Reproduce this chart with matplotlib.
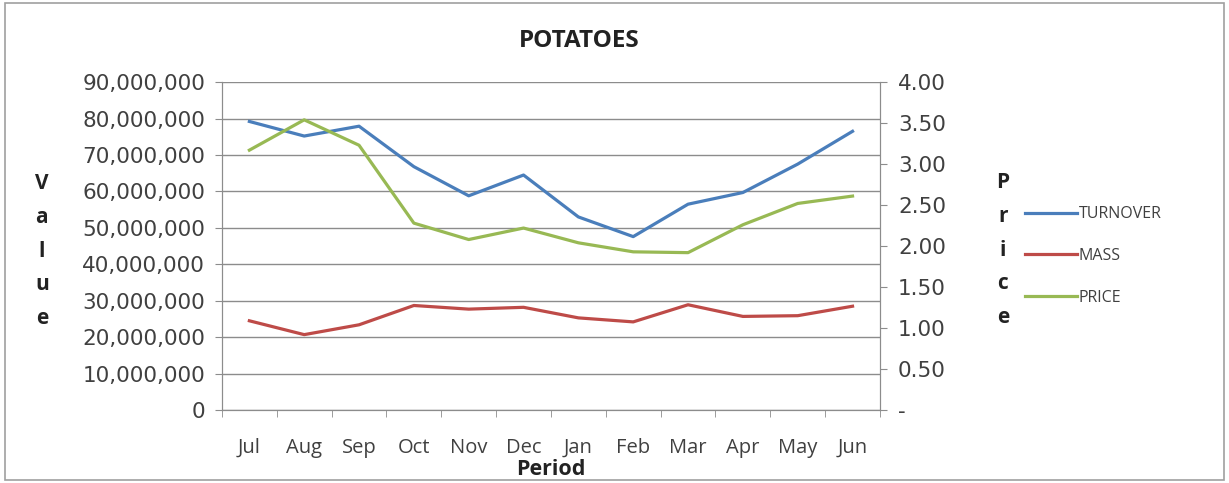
import matplotlib
matplotlib.use("Agg")
import matplotlib.pyplot as plt
from matplotlib.ticker import FuncFormatter, FixedLocator
from matplotlib.lines import Line2D
from matplotlib.patches import Rectangle

plt.rcParams['font.family'] = ['Open Sans', 'DejaVu Sans']

months = ["Jul", "Aug", "Sep", "Oct", "Nov", "Dec", "Jan", "Feb", "Mar", "Apr", "May", "Jun"]
turnover = [79.2e6, 75.2e6, 77.9e6, 66.8e6, 58.8e6, 64.5e6, 53.0e6, 47.6e6, 56.5e6, 59.7e6, 67.5e6, 76.5e6]
mass = [24.5e6, 20.7e6, 23.4e6, 28.7e6, 27.7e6, 28.2e6, 25.3e6, 24.2e6, 28.9e6, 25.7e6, 25.9e6, 28.5e6]
price = [3.17, 3.54, 3.23, 2.28, 2.08, 2.22, 2.04, 1.93, 1.92, 2.26, 2.52, 2.61]

blue = "#4a7ebb"
red = "#be4b48"
green = "#98b954"
grey = "#8c8c8c"
text_col = "#404040"

fig = plt.figure(figsize=(12.29, 4.83), dpi=100)
fig.patches.append(Rectangle((0.004, 0.006), 0.992, 0.988, transform=fig.transFigure,
                             fill=False, edgecolor="#a0a0a0", linewidth=1.2))

ax = fig.add_axes([0.1806, 0.151, 0.5354, 0.679])
ax2 = ax.twinx()

x = list(range(len(months)))
ax.plot(x, turnover, color=blue, linewidth=2.3, label="TURNOVER", zorder=3)
ax.plot(x, mass, color=red, linewidth=2.3, label="MASS", zorder=3)
ax2.plot(x, price, color=green, linewidth=2.3, label="PRICE", zorder=3)

ax.set_xlim(-0.5, 11.5)
ax.set_ylim(0, 90e6)
ax2.set_ylim(0, 4)
ax.set_yticks([i * 10e6 for i in range(10)])
ax2.set_yticks([i * 0.5 for i in range(9)])
ax.yaxis.set_major_formatter(FuncFormatter(lambda v, p: f"{int(v):,}"))
ax2.yaxis.set_major_formatter(FuncFormatter(lambda v, p: "-" if v == 0 else f"{v:.2f}"))

ax.set_xticks(x)
ax.set_xticklabels(months)
ax.xaxis.set_minor_locator(FixedLocator([i - 0.5 for i in range(13)]))
ax.tick_params(axis="x", which="major", length=0, pad=20, labelsize=14.5, labelcolor=text_col)
ax.tick_params(axis="x", which="minor", length=5, color=grey, direction="out")
ax.tick_params(axis="y", length=5, color=grey, pad=7, labelsize=15.5, labelcolor=text_col)
ax2.tick_params(axis="y", length=5, color=grey, pad=8, labelsize=15.5, labelcolor=text_col)
for lbl in ax.get_yticklabels() + ax2.get_yticklabels():
    lbl.set_family("DejaVu Sans")

ax.grid(axis="y", color=grey, linewidth=1.0, zorder=0)
for a in (ax, ax2):
    a.spines["top"].set_visible(False)
    for s in ("left", "right", "bottom"):
        a.spines[s].set_color(grey)
ax.set_facecolor("none")

ax.set_xlabel("Period", fontsize=15.5, fontweight="bold", color="#222222")
ax.xaxis.set_label_coords(0.5, -0.148)
fig.text(0.4717, 0.915, "POTATOES", ha="center", va="center", fontsize=17.5, fontweight="bold", color="#222222")

fig.text(0.034, 0.48, "V\na\nl\nu\ne", ha="center", va="center", fontsize=15, fontweight="bold",
         color="#222222", linespacing=1.8)
fig.text(0.816, 0.482, "P\nr\ni\nc\ne", ha="center", va="center", fontsize=15, fontweight="bold",
         color="#222222", linespacing=1.8)

handles = [Line2D([], [], color=blue, linewidth=2.3),
           Line2D([], [], color=red, linewidth=2.3),
           Line2D([], [], color=green, linewidth=2.3)]
fig.legend(handles, ["TURNOVER", "MASS", "PRICE"], loc="center left", bbox_to_anchor=(0.822, 0.47),
           frameon=False, fontsize=11.5, handlelength=3.3, handletextpad=0.1, labelspacing=1.6,
           labelcolor=text_col)

fig.savefig("out.png", dpi=100)
